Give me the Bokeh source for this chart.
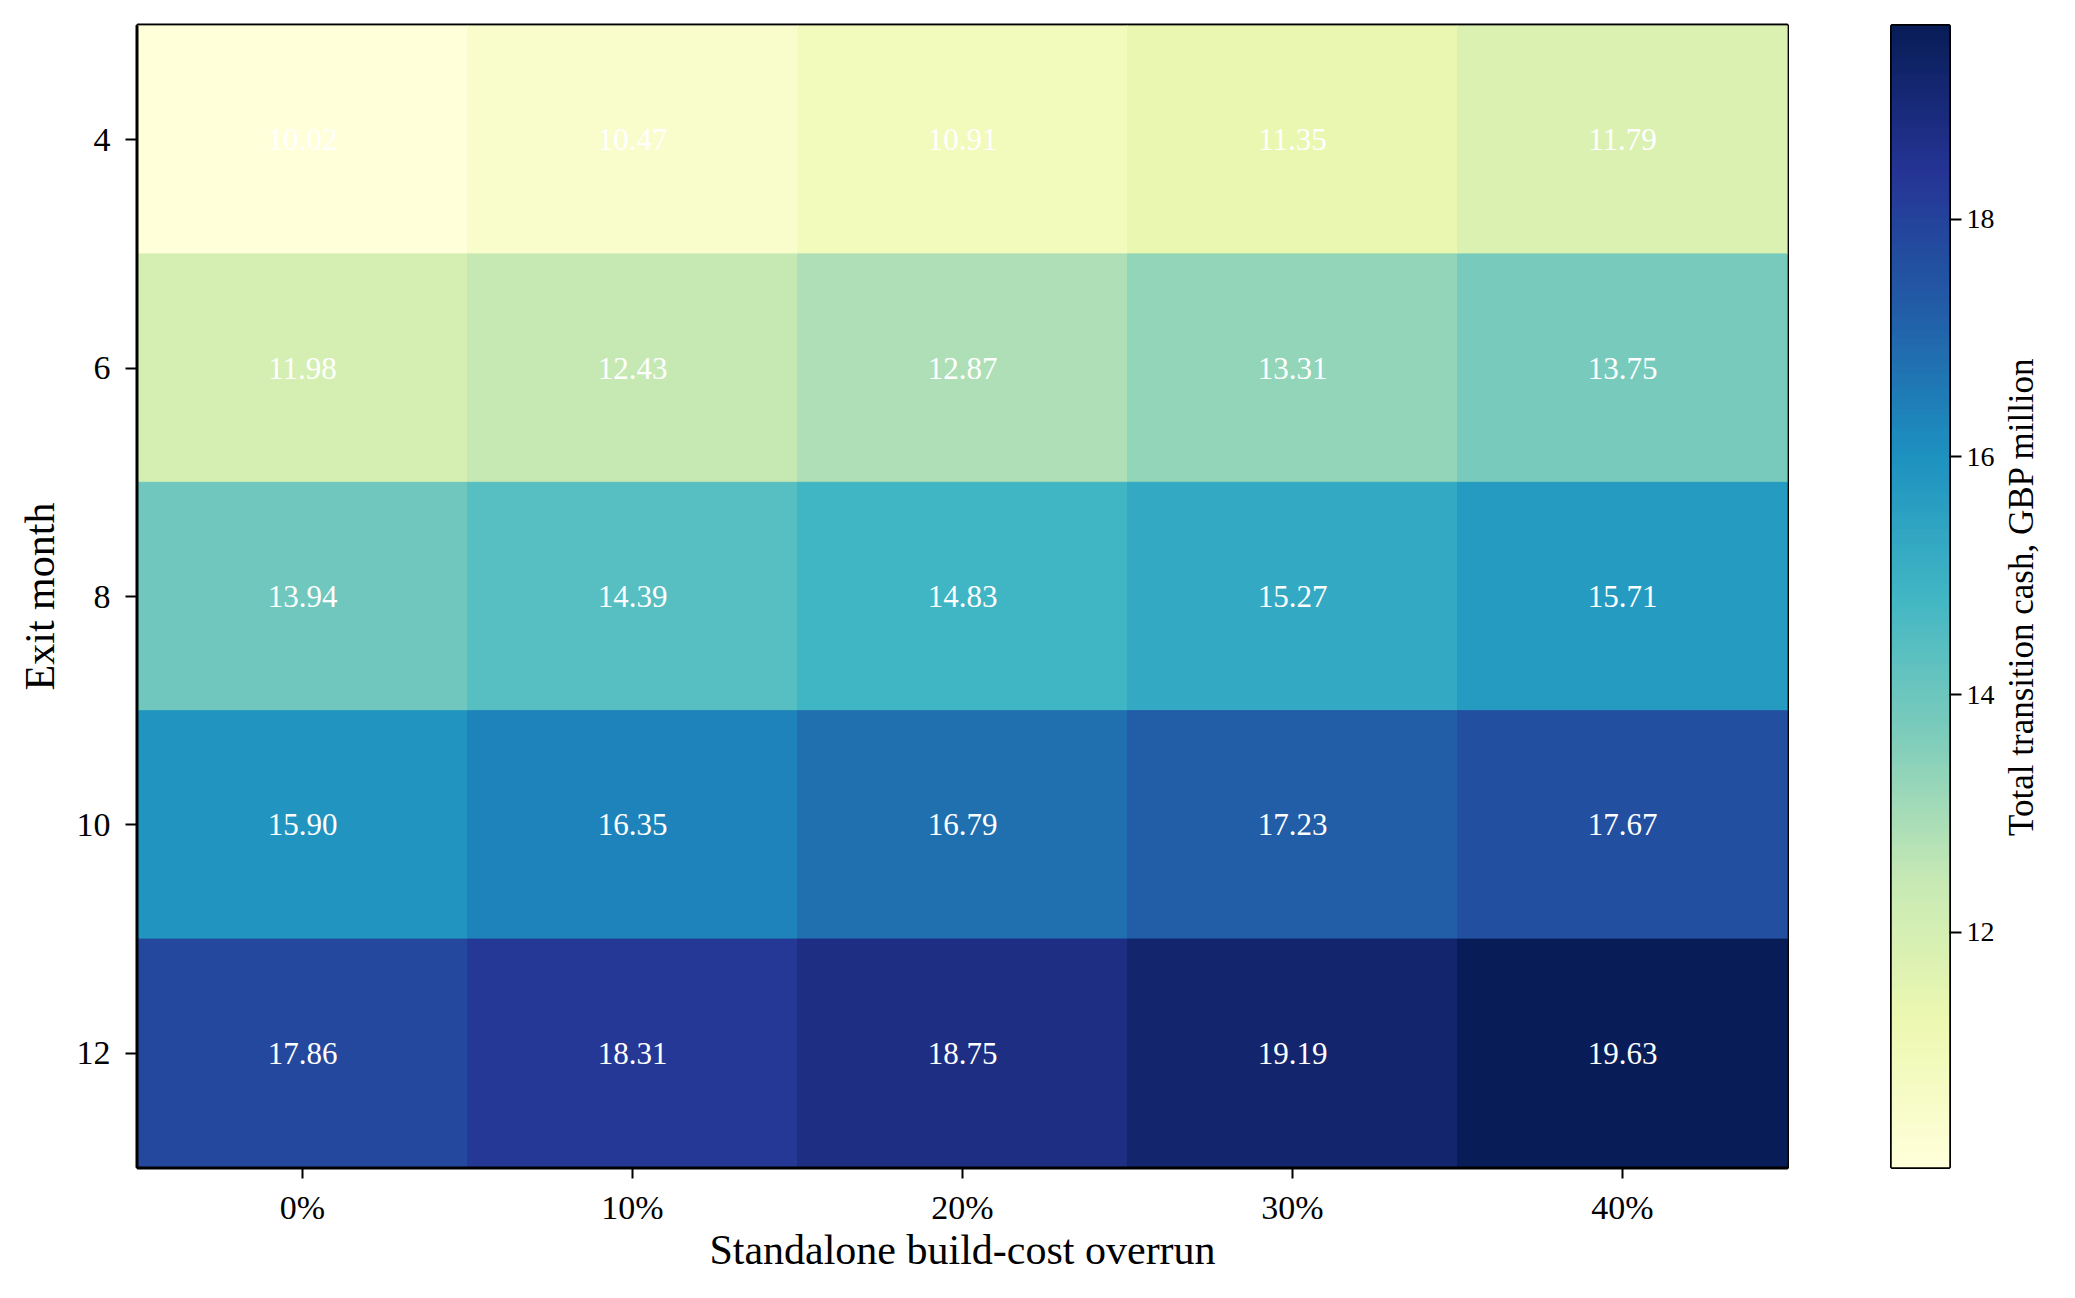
import numpy as np
from bokeh.plotting import figure
from bokeh.models import (ColumnDataSource, LinearColorMapper, FactorRange, Range1d,
                          FixedTicker, Title)
from bokeh.layouts import row
from bokeh.embed import file_html
from bokeh.resources import INLINE
from bokeh.core.properties import value
from bokeh.transform import transform

# ---------------- data ----------------
overrun_labels = ["0%", "10%", "20%", "30%", "40%"]
exit_months = ["4", "6", "8", "10", "12"]
cash_m4 = [10.02, 10.47, 10.91, 11.35, 11.79]
cash_m6 = [11.98, 12.43, 12.87, 13.31, 13.75]
cash_m8 = [13.94, 14.39, 14.83, 15.27, 15.71]
cash_m10 = [15.90, 16.35, 16.79, 17.23, 17.67]
cash_m12 = [17.86, 18.31, 18.75, 19.19, 19.63]
cbar_ticks = [12, 14, 16, 18]

x_title = "Standalone build-cost overrun"
y_title = "Exit month"
cbar_title = "Total transition cash, GBP million"

rows_vals = [cash_m4, cash_m6, cash_m8, cash_m10, cash_m12]
xs, ys, vals = [], [], []
for m, r in zip(exit_months, rows_vals):
    for o, v in zip(overrun_labels, r):
        xs.append(o)
        ys.append(m)
        vals.append(v)
src = ColumnDataSource(dict(x=xs, y=ys, v=vals, t=[f"{v:.2f}" for v in vals]))

vmin, vmax = min(vals), max(vals)

# ---------------- palette (YlGnBu, 256 levels) ----------------
brewer = ["#ffffd9", "#edf8b1", "#c7e9b4", "#7fcdbb", "#41b6c4",
          "#1d91c0", "#225ea8", "#253494", "#081d58"]
def _rgb(h):
    return [int(h[i:i + 2], 16) for i in (1, 3, 5)]
stops = [_rgb(c) for c in brewer]
pal = []
for i in range(256):
    t = i / 255 * (len(stops) - 1)
    k = min(int(t), len(stops) - 2)
    f = t - k
    c = [round(stops[k][j] + (stops[k + 1][j] - stops[k][j]) * f) for j in range(3)]
    pal.append("#%02x%02x%02x" % tuple(c))

mapper = LinearColorMapper(palette=pal, low=vmin, high=vmax)

FONT = "Liberation Serif"
TOP = 25
FH = 1142
BOTTOM = 110

# ---------------- heatmap ----------------
p = figure(x_range=FactorRange(factors=overrun_labels),
           y_range=FactorRange(factors=exit_months[::-1]),
           frame_width=1650, frame_height=FH,
           min_border_left=137, min_border_right=2,
           min_border_top=TOP, min_border_bottom=BOTTOM,
           toolbar_location=None, output_backend="svg")
p.rect(x="x", y="y", width=1, height=1, source=src,
       fill_color=transform("v", mapper), line_color=transform("v", mapper),
       line_width=1)
p.text(x="x", y="y", text="t", source=src, text_color="white",
       text_align="center", text_baseline="middle",
       text_font=value(FONT), text_font_size="31px")
p.grid.visible = False
p.outline_line_color = "black"
p.outline_line_width = 4

for ax in (p.xaxis[0], p.yaxis[0]):
    ax.axis_line_color = "black"
    ax.axis_line_width = 2
    ax.major_tick_line_color = "black"
    ax.major_tick_line_width = 2
    ax.major_tick_in = 0
    ax.minor_tick_line_color = None
    ax.major_label_text_font = FONT
    ax.major_label_text_color = "black"
    ax.major_label_text_font_size = "34px"
    ax.axis_label_text_font = FONT
    ax.axis_label_text_font_style = "normal"
    ax.axis_label_text_color = "black"
    ax.axis_label_text_font_size = "42px"

p.xaxis.axis_label = x_title
p.xaxis.major_tick_out = 11
p.xaxis.major_label_standoff = 10
p.xaxis.axis_label_standoff = -2
p.yaxis.axis_label = y_title
p.yaxis.major_tick_out = 12
p.yaxis.major_label_standoff = 15
p.yaxis.axis_label_standoff = 11

# ---------------- colour bar ----------------
cb = figure(x_range=Range1d(0, 1), y_range=Range1d(vmin, vmax),
            frame_width=58, frame_height=FH,
            min_border_left=102, min_border_right=50,
            min_border_top=TOP, min_border_bottom=BOTTOM,
            x_axis_location=None, y_axis_location="right",
            toolbar_location=None, output_backend="svg")
grad = np.linspace(vmin, vmax, 600).reshape(-1, 1)
cb.image(image=[grad], x=0, y=vmin, dw=1, dh=vmax - vmin, color_mapper=mapper)
cb.grid.visible = False
cb.outline_line_color = "black"
cb.outline_line_width = 3
ya = cb.yaxis[0]
ya.ticker = FixedTicker(ticks=cbar_ticks)
ya.axis_line_color = None
ya.major_tick_line_color = "black"
ya.major_tick_line_width = 2
ya.major_tick_in = 0
ya.major_tick_out = 12
ya.minor_tick_line_color = None
ya.major_label_standoff = 5
ya.major_label_text_font = FONT
ya.major_label_text_color = "black"
ya.major_label_text_font_size = "28px"

# ---------------- colour bar title (vertical, reading upwards) ----------------
ct = figure(x_range=Range1d(0, 1), y_range=Range1d(0, 1),
            frame_width=8, frame_height=FH,
            min_border_left=0, min_border_right=0,
            min_border_top=TOP, min_border_bottom=BOTTOM,
            x_axis_location=None, y_axis_location=None,
            toolbar_location=None, output_backend="svg")
ct.outline_line_color = None
ct.grid.visible = False
ct.add_layout(Title(text=cbar_title, align="center", standoff=0,
                    text_font=FONT, text_font_size="35px",
                    text_font_style="normal", text_color="black"), "left")

layout = row(p, cb, ct)
open("out.html", "w").write(file_html(layout, INLINE))
